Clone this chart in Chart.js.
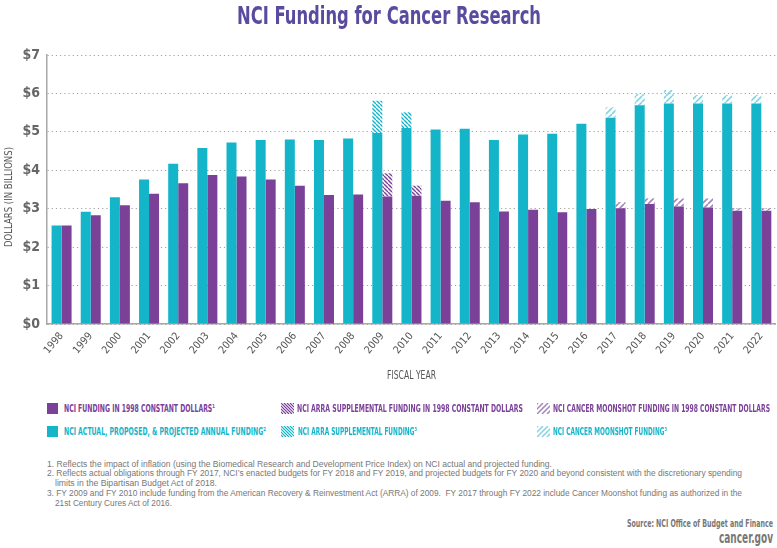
<!DOCTYPE html>
<html><head><meta charset="utf-8">
<script src="https://cdn.jsdelivr.net/npm/chart.js@4.4.1/dist/chart.umd.min.js"></script>
<style>
html,body{margin:0;padding:0;background:#fff;}
body{width:777px;height:548px;position:relative;overflow:hidden;font-family:'DejaVu Sans Condensed','Liberation Sans Narrow',sans-serif;}
.fit{position:absolute;white-space:nowrap;transform-origin:0 50%;}
#title{top:0;font-weight:bold;font-size:25px;color:#5b4b9f;line-height:32px;}
#wrap{position:absolute;left:0;top:0;width:777px;height:390px;}
.leg{font-weight:bold;font-size:10.5px;line-height:12px;}
.sw{position:absolute;}
.fn{font-family:'Liberation Sans',Arial,sans-serif;font-size:8.5px;color:#777;line-height:10px;}
#src{top:517px;font-weight:bold;font-size:11px;color:#777;line-height:13px;}
#gov{top:530px;font-weight:bold;font-size:15px;color:#777;line-height:16px;}
#xt{top:368px;font-size:13px;color:#555;line-height:14px;}
#yt{position:absolute;white-space:nowrap;font-size:11px;color:#555;line-height:12px;}
</style></head>
<body>
<div id="wrap"><canvas id="c" width="777" height="390"></canvas></div>
<div id="title" class="fit" data-x="237" data-w="304">NCI Funding for Cancer Research</div>
<div id="xt" class="fit" data-x="387" data-w="49">FISCAL YEAR</div>
<div id="yt">DOLLARS (IN BILLIONS)</div>
<div id="legend"></div>
<div class="fn fit" data-x="47" data-w="505" style="top:459px">1. Reflects the impact of inflation (using the Biomedical Research and Development Price Index) on NCI actual and projected funding.</div>
<div class="fn fit" data-x="47" data-w="695" style="top:468px">2. Reflects actual obligations through FY 2017, NCI’s enacted budgets for FY 2018 and FY 2019, and projected budgets for FY 2020 and beyond consistent with the discretionary spending</div>
<div class="fn fit" data-x="55" data-w="162" style="top:478px">limits in the Bipartisan Budget Act of 2018.</div>
<div class="fn fit" data-x="47" data-w="695" style="top:488px">3. FY 2009 and FY 2010 include funding from the American Recovery &amp; Reinvestment Act (ARRA) of 2009.&nbsp; FY 2017 through FY 2022 include Cancer Moonshot funding as authorized in the</div>
<div class="fn fit" data-x="55" data-w="117" style="top:498px">21st Century Cures Act of 2016.</div>
<div id="src" class="fit" data-x="627" data-w="146">Source: NCI Office of Budget and Finance</div>
<div id="gov" class="fit" data-x="719" data-w="54">cancer.gov</div>
<script>
const years = ['1998','1999','2000','2001','2002','2003','2004','2005','2006','2007','2008','2009','2010','2011','2012','2013','2014','2015','2016','2017','2018','2019','2020','2021','2022'];
const actualFunding = [2.56,2.92,3.30,3.76,4.17,4.58,4.72,4.79,4.80,4.79,4.83,4.97,5.10,5.06,5.08,4.79,4.93,4.95,5.21,5.37,5.69,5.74,5.74,5.74,5.74];
const arraActual = [null,null,null,null,null,null,null,null,null,null,null,0.84,0.41,null,null,null,null,null,null,null,null,null,null,null,null];
const moonshotActual = [null,null,null,null,null,null,null,null,null,null,null,null,null,null,null,null,null,null,null,0.27,0.29,0.35,0.22,0.22,0.22];
const constantFunding = [2.56,2.83,3.09,3.39,3.66,3.88,3.84,3.76,3.60,3.36,3.37,3.32,3.34,3.21,3.17,2.93,2.97,2.91,2.99,3.01,3.12,3.06,3.03,2.95,2.95];
const arraConstant = [null,null,null,null,null,null,null,null,null,null,null,0.60,0.26,null,null,null,null,null,null,null,null,null,null,null,null];
const moonshotConstant = [null,null,null,null,null,null,null,null,null,null,null,null,null,null,null,null,null,null,null,0.16,0.15,0.21,0.24,0.06,0.06];
const yTicks = ['$0','$1','$2','$3','$4','$5','$6','$7'];

const F = "'DejaVu Sans Condensed','Liberation Sans Narrow',sans-serif";
const TEAL = '#14b5c9', PURPLE = '#7b4199';
const TEAL_L = '#86d4e0', PURPLE_L = '#a486bd';

function drawHatch(g, w, h, color, dir, period, lw) {
  g.strokeStyle = color; g.lineWidth = lw; g.beginPath();
  const n = Math.ceil((w + h) / period) + 2;
  for (let k = -n; k <= n; k++) {
    const x0 = k * period;
    if (dir === 'back') { g.moveTo(x0, 0); g.lineTo(x0 + h, h); }
    else { g.moveTo(x0 + h, 0); g.lineTo(x0, h); }
  }
  g.stroke();
}
function makePattern(color, dir, period, lw) {
  const c = document.createElement('canvas'); c.width = period; c.height = period;
  const g = c.getContext('2d');
  drawHatch(g, period, period, color, dir, period, lw);
  return g.createPattern(c, 'repeat');
}
const ctx = document.getElementById('c').getContext('2d');
const patArraTeal = makePattern(TEAL, 'back', 4, 1.4);
const patArraPurple = makePattern(PURPLE, 'back', 4, 1.4);
const patMoonTeal = makePattern(TEAL_L, 'fwd', 6, 1.6);
const patMoonPurple = makePattern(PURPLE_L, 'fwd', 6, 1.6);

new Chart(ctx, {
  type: 'bar',
  data: {
    labels: years,
    datasets: [
      {data: actualFunding, backgroundColor: TEAL, stack: 'a'},
      {data: arraActual, backgroundColor: patArraTeal, stack: 'a'},
      {data: moonshotActual, backgroundColor: patMoonTeal, stack: 'a'},
      {data: constantFunding, backgroundColor: PURPLE, stack: 'b'},
      {data: arraConstant, backgroundColor: patArraPurple, stack: 'b'},
      {data: moonshotConstant, backgroundColor: patMoonPurple, stack: 'b'}
    ]
  },
  options: {
    responsive: false, animation: false,
    datasets: {bar: {categoryPercentage: 0.686, barPercentage: 1, borderWidth: 0}},
    layout: {padding: {top: 55, right: 1, left: 0, bottom: 0}},
    plugins: {legend: {display: false}, tooltip: {enabled: false}},
    scales: {
      x: {
        stacked: true,
        grid: {display: false, drawTicks: false},
        border: {display: true, color: '#a8a8a8', width: 1.5},
        ticks: {autoSkip: false, minRotation: 50, maxRotation: 50, color: '#555', padding: 6, font: {family: F, size: 10.5}},
        afterFit(s) { s.height = 66; }
      },
      y: {
        stacked: true, min: 0, max: 7,
        grid: {color: '#a0a0a0', lineWidth: 1, drawTicks: false},
        border: {display: true, color: '#a8a8a8', width: 1.5, dash: [1.2, 3]},
        ticks: {stepSize: 1, color: '#666', padding: 7, font: {family: F, size: 14, weight: 'bold'},
                callback: (v) => yTicks[v]},
        afterFit(s) { s.width = 47; }
      }
    }
  }
});

// HTML legend
const legendItems = [
  {x: 47, y: 403, text: 'NCI FUNDING IN 1998 CONSTANT DOLLARS¹', color: PURPLE, sw: 'solid', sc: PURPLE, tx: 64, tw: 151},
  {x: 281, y: 403, text: 'NCI ARRA SUPPLEMENTAL FUNDING IN 1998 CONSTANT DOLLARS', color: PURPLE, sw: 'back', sc: PURPLE, tx: 297, tw: 226},
  {x: 537, y: 403, text: 'NCI CANCER MOONSHOT FUNDING IN 1998 CONSTANT DOLLARS', color: PURPLE, sw: 'fwd', sc: PURPLE_L, tx: 553, tw: 217},
  {x: 47, y: 426, text: 'NCI ACTUAL, PROPOSED, & PROJECTED ANNUAL FUNDING²', color: TEAL, sw: 'solid', sc: TEAL, tx: 64, tw: 202},
  {x: 281, y: 426, text: 'NCI ARRA SUPPLEMENTAL FUNDING³', color: TEAL, sw: 'back', sc: TEAL, tx: 298, tw: 119},
  {x: 537, y: 426, text: 'NCI CANCER MOONSHOT FUNDING³', color: TEAL, sw: 'fwd', sc: TEAL_L, tx: 553, tw: 114}
];
const leg = document.getElementById('legend');
legendItems.forEach(it => {
  const c = document.createElement('canvas');
  c.className = 'sw';
  const w = it.sw === 'solid' ? 11 : 13;
  c.width = w; c.height = 11;
  c.style.left = it.x + 'px'; c.style.top = it.y + 'px';
  const g = c.getContext('2d');
  if (it.sw === 'solid') { g.fillStyle = it.sc; g.fillRect(0, 0, w, 11); }
  else if (it.sw === 'back') drawHatch(g, w, 11, it.sc, 'back', 3, 1.2);
  else drawHatch(g, w, 11, it.sc, 'fwd', 5, 1.5);
  leg.appendChild(c);
  const t = document.createElement('div');
  t.className = 'leg fit';
  t.dataset.x = it.tx; t.dataset.w = it.tw;
  t.style.top = (it.y - 1) + 'px';
  t.style.color = it.color;
  t.textContent = it.text;
  leg.appendChild(t);
});

// fit HTML text to reference widths
document.querySelectorAll('.fit').forEach(el => {
  el.style.left = el.dataset.x + 'px';
  const w = el.getBoundingClientRect().width;
  el.style.transform = 'scaleX(' + (parseFloat(el.dataset.w) / w) + ')';
});
// y axis title (rotated)
const yt = document.getElementById('yt');
const yw = yt.getBoundingClientRect().width;
yt.style.left = (9 - yw / 2) + 'px';
yt.style.top = (197 - 6) + 'px';
yt.style.transform = 'rotate(-90deg) scaleX(' + (100 / yw) + ')';
</script>
</body></html>
